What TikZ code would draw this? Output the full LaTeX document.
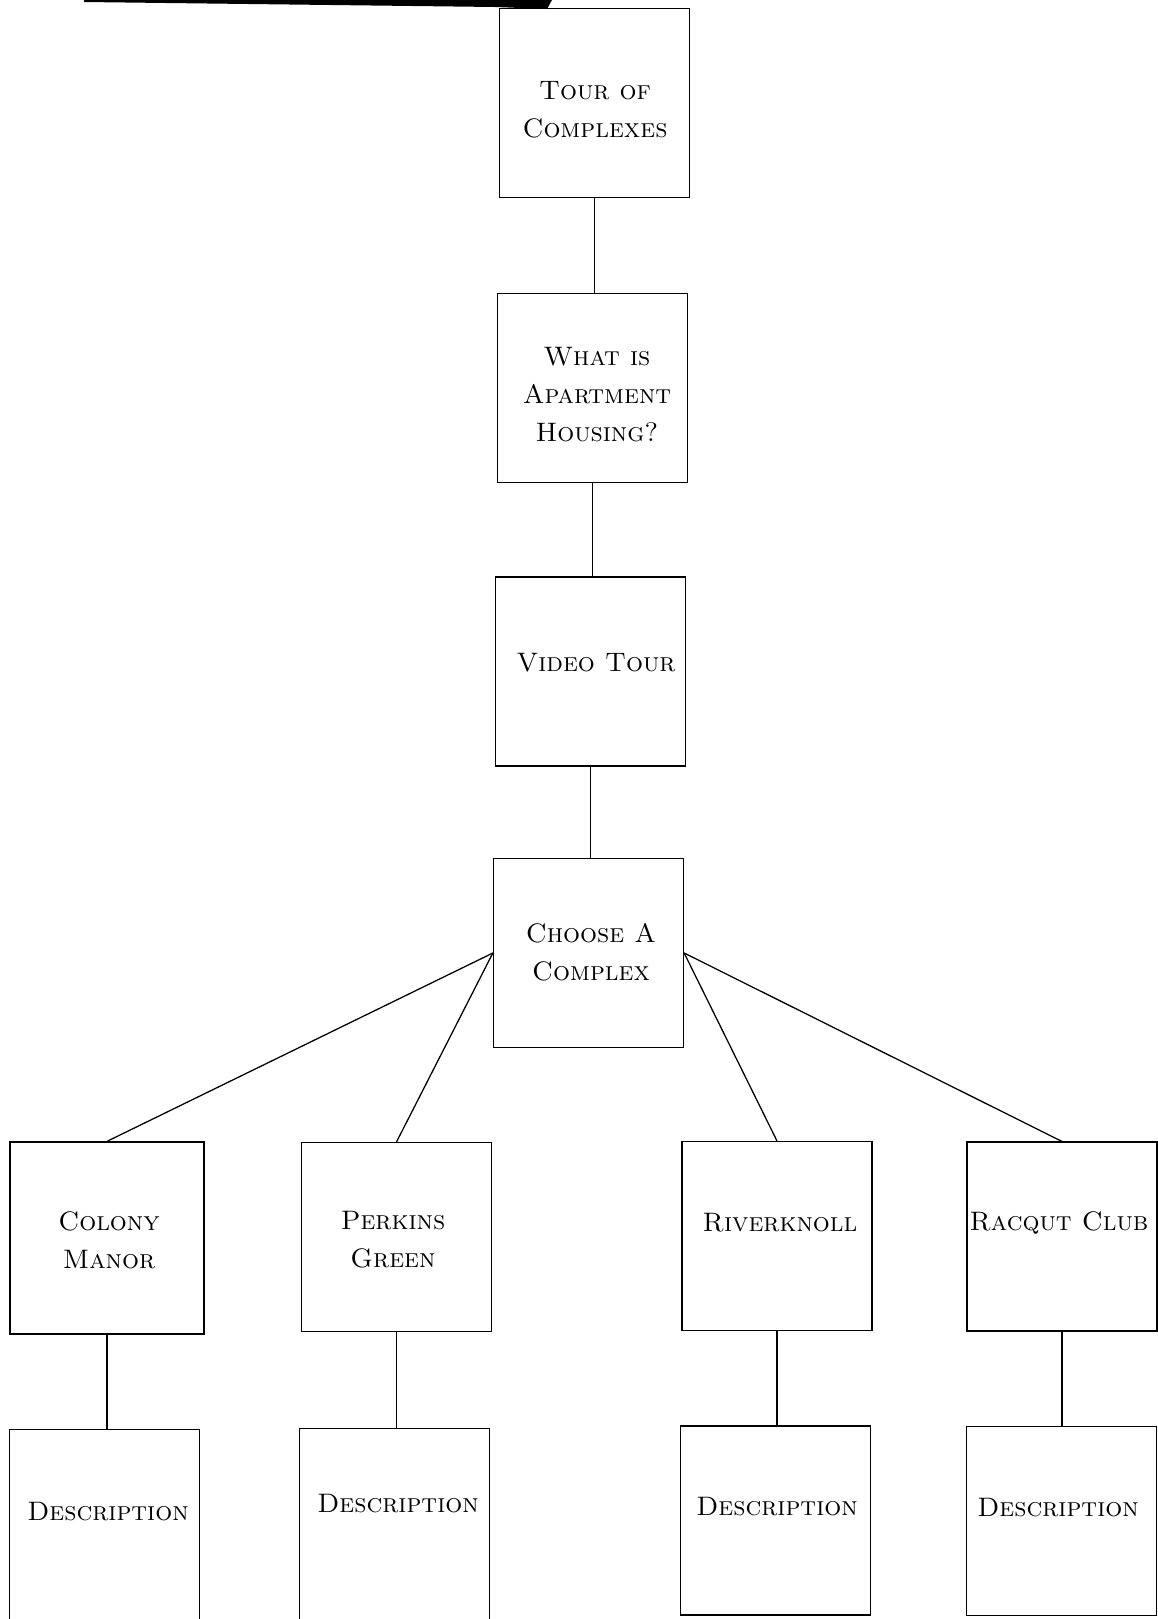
\documentclass[tikz,border=0pt]{standalone}
\usepackage{tikz}

\begin{document}
\begin{tikzpicture}[x=0.025cm, y=-0.025cm]

\tikzstyle{box}=[draw, line width=0.9pt, inner sep=0pt, minimum width=4.75cm, minimum height=4.72cm]
\tikzstyle{txt}=[align=center, inner sep=0pt, font=\fontsize{19}{27}\selectfont\scshape]
\tikzstyle{link}=[line width=0.9pt]

\useasboundingbox (0,0) rectangle (1158,1619);

% --- scan smear at the top edge ---
\fill[black] (84,0) -- (552,0) -- (547,9) -- (495,7) -- (84,2) -- cycle;

% --- main column ---
\node[box] (tour)   at (594.5,103)   {};
\node[box] (what)   at (592.5,388)   {};
\node[box] (video)  at (590.5,671.5) {};
\node[box] (choose) at (588.5,953)   {};

\node[txt] (tourtxt)   at (595,110)   {Tour of\\Complexes};
\node[txt] (whattxt)   at (597,395)   {What is\\Apartment\\Housing?};
\node[txt] (videotxt)  at (596,662.5) {Video Tour};
\node[txt] (choosetxt) at (591,952)   {Choose A\\Complex};

% --- complexes ---
\node[box, minimum width=4.85cm, minimum height=4.8cm] (colony) at (107,1238) {};
\node[box] (perkins) at (396.5,1237)  {};
\node[box] (river)   at (777,1236)    {};
\node[box] (racqut)  at (1062,1236.5) {};

\node[txt] (colonytxt)  at (109,1240)  {Colony\\Manor};
\node[txt] (perkinstxt) at (393,1240)  {Perkins\\Green};
\node[txt] (rivertxt)   at (780,1223)  {Riverknoll};
\node[txt] (racquttxt)  at (1059,1223) {Racqut Club};

% --- descriptions ---
\node[box, minimum height=4.8cm] (desc1) at (104.5,1525.5) {};
\node[box, minimum height=4.8cm] (desc2) at (394.5,1524.5) {};
\node[box] (desc3) at (775.5,1520.5) {};
\node[box] (desc4) at (1061.5,1521)  {};

\node[txt] (desc1txt) at (108,1512)  {Description};
\node[txt] (desc2txt) at (398,1504)  {Description};
\node[txt] (desc3txt) at (777,1507)  {Description};
\node[txt] (desc4txt) at (1058,1508) {Description};

% --- connectors ---
\draw[link] (tour.south) -- (tour.south |- what.north);
\draw[link] (what.south) -- (what.south |- video.north);
\draw[link] (video.south) -- (video.south |- choose.north);

\draw[link] (choose.west) -- (colony.north);
\draw[link] (choose.west) -- (perkins.north);
\draw[link] (choose.east) -- (river.north);
\draw[link] (choose.east) -- (racqut.north);

\draw[link] (colony.south) -- (colony.south |- desc1.north);
\draw[link] (perkins.south) -- (perkins.south |- desc2.north);
\draw[link] (river.south) -- (river.south |- desc3.north);
\draw[link] (racqut.south) -- (racqut.south |- desc4.north);

\end{tikzpicture}
\end{document}
